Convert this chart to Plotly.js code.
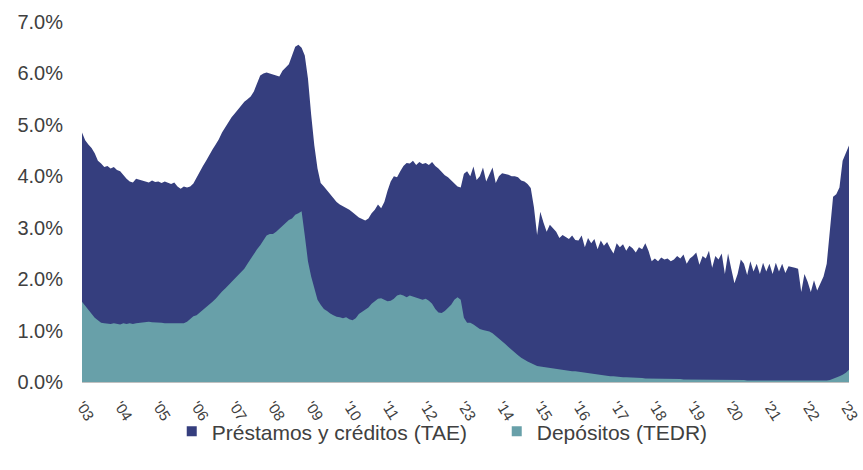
<!DOCTYPE html>
<html>
<head>
<meta charset="utf-8">
<script src="https://cdn.plot.ly/plotly-3.0.1.min.js"></script>
<style>html,body{margin:0;padding:0;background:#fff;}#chart{width:863px;height:470px;}</style>
</head>
<body>
<div id="chart"></div>
<script>
// Monthly series, January 2003 – February 2023 (percent)
const startYear = 2003;
const loansTAE = [
  4.85, 4.70, 4.62, 4.55, 4.45, 4.30, 4.25, 4.18, 4.20, 4.15, 4.18, 4.12,
  4.10, 4.02, 3.95, 3.90, 3.88, 3.95, 3.93, 3.92, 3.90, 3.88, 3.92, 3.89,
  3.90, 3.87, 3.90, 3.88, 3.85, 3.88, 3.80, 3.76, 3.80, 3.78, 3.80, 3.86,
  3.98, 4.10, 4.20, 4.30, 4.42, 4.52, 4.62, 4.72, 4.85, 4.95, 5.05, 5.15,
  5.22, 5.30, 5.38, 5.45, 5.50, 5.55, 5.65, 5.80, 5.96, 6.00, 6.02, 6.00,
  5.98, 5.96, 5.94, 6.05, 6.12, 6.18, 6.35, 6.52, 6.56, 6.50, 6.35, 5.90,
  5.20, 4.60, 4.15, 3.87, 3.80, 3.72, 3.65, 3.58, 3.50, 3.45, 3.42, 3.38,
  3.35, 3.30, 3.25, 3.20, 3.17, 3.14, 3.18, 3.28, 3.35, 3.45, 3.38, 3.50,
  3.72, 3.90, 4.00, 3.98, 4.10, 4.20, 4.26, 4.25, 4.30, 4.22, 4.28, 4.24,
  4.26, 4.22, 4.28, 4.20, 4.15, 4.08, 4.02, 3.98, 3.92, 3.88, 3.80, 3.78,
  4.05, 4.10, 4.00, 4.19, 3.93, 4.00, 4.17, 3.90, 4.05, 4.17, 3.87, 4.00,
  4.06, 4.05, 4.03, 4.00, 4.00, 3.98, 3.92, 3.90, 3.85, 3.77, 3.40, 2.86,
  3.31, 3.10, 2.92, 3.06, 3.00, 2.92, 2.80, 2.86, 2.82, 2.78, 2.85, 2.76,
  2.75, 2.85, 2.62, 2.80, 2.70, 2.78, 2.58, 2.75, 2.65, 2.72, 2.60, 2.50,
  2.70, 2.62, 2.68, 2.55, 2.65, 2.60, 2.52, 2.62, 2.58, 2.70, 2.55, 2.35,
  2.40, 2.35, 2.42, 2.38, 2.40, 2.35, 2.38, 2.45, 2.40, 2.48, 2.30, 2.40,
  2.45, 2.52, 2.28, 2.45, 2.40, 2.55, 2.22, 2.45, 2.38, 2.50, 2.10, 2.50,
  2.20, 1.92, 2.10, 2.38, 2.30, 2.08, 2.35, 2.15, 2.30, 2.10, 2.32, 2.15,
  2.30, 2.10, 2.32, 2.15, 2.30, 2.12, 2.25, 2.24, 2.22, 2.20, 1.75, 2.10,
  1.95, 1.75, 1.98, 1.78, 1.92, 2.05, 2.30, 2.90, 3.60, 3.65, 3.78, 4.30,
  4.45, 4.60
];
const depositsTEDR = [
  1.56, 1.48, 1.40, 1.32, 1.25, 1.20, 1.15, 1.14, 1.13, 1.13, 1.14, 1.13,
  1.12, 1.14, 1.13, 1.14, 1.13, 1.14, 1.15, 1.16, 1.17, 1.17, 1.16, 1.16,
  1.15, 1.15, 1.14, 1.14, 1.13, 1.14, 1.13, 1.13, 1.14, 1.17, 1.22, 1.28,
  1.30, 1.35, 1.40, 1.45, 1.50, 1.56, 1.62, 1.70, 1.76, 1.82, 1.88, 1.95,
  2.00, 2.07, 2.12, 2.20, 2.30, 2.40, 2.50, 2.58, 2.66, 2.75, 2.85, 2.88,
  2.88, 2.92, 2.98, 3.02, 3.08, 3.15, 3.18, 3.25, 3.28, 3.32, 2.85, 2.35,
  2.05, 1.80, 1.60, 1.50, 1.42, 1.38, 1.33, 1.30, 1.27, 1.26, 1.24, 1.26,
  1.22, 1.20, 1.24, 1.32, 1.36, 1.40, 1.45, 1.52, 1.58, 1.62, 1.63, 1.60,
  1.57, 1.58, 1.62, 1.68, 1.70, 1.68, 1.65, 1.68, 1.66, 1.63, 1.62, 1.60,
  1.62, 1.58, 1.52, 1.42, 1.35, 1.34, 1.38, 1.45, 1.50, 1.60, 1.65, 1.60,
  1.25, 1.15, 1.15, 1.12, 1.08, 1.03, 1.01, 1.00, 0.98, 0.95, 0.90, 0.85,
  0.80, 0.74, 0.68, 0.62, 0.57, 0.52, 0.47, 0.43, 0.40, 0.37, 0.34, 0.31,
  0.30, 0.29, 0.28, 0.27, 0.26, 0.25, 0.24, 0.24, 0.23, 0.22, 0.21, 0.21,
  0.20, 0.19, 0.18, 0.17, 0.16, 0.15, 0.14, 0.13, 0.12, 0.12, 0.11, 0.11,
  0.10, 0.10, 0.09, 0.09, 0.09, 0.08, 0.08, 0.08, 0.08, 0.07, 0.07, 0.07,
  0.07, 0.07, 0.07, 0.06, 0.06, 0.06, 0.06, 0.06, 0.06, 0.05, 0.05, 0.05,
  0.05, 0.05, 0.05, 0.05, 0.05, 0.05, 0.04, 0.05, 0.04, 0.04, 0.04, 0.04,
  0.04, 0.04, 0.04, 0.04, 0.04, 0.03, 0.03, 0.03, 0.03, 0.03, 0.03, 0.03,
  0.03, 0.03, 0.03, 0.03, 0.02, 0.02, 0.02, 0.02, 0.02, 0.02, 0.02, 0.02,
  0.02, 0.02, 0.02, 0.02, 0.02, 0.02, 0.03, 0.04, 0.06, 0.08, 0.11, 0.14,
  0.18, 0.24
];
const tickYears = [2003,2004,2005,2006,2007,2008,2009,2010,2011,2012,2013,2014,2015,2016,2017,2018,2019,2020,2021,2022,2023];
const tickLabels = ["'03","'04","'05","'06","'07","'08","'09","'10","'11","'12","'23","'14","'15","'16","'17","'18","'19","'20","'21","'22","'23"];
const seriesNames = ["Préstamos y créditos (TAE)", "Depósitos (TEDR)"];
const seriesColors = ["#353e7e", "#68a0a9"];

const months = loansTAE.map((_, i) => startYear + i / 12);

const traces = [
  {x: months, y: loansTAE, type: 'scatter', mode: 'lines', fill: 'tozeroy',
   line: {width: 0, color: seriesColors[0]}, fillcolor: seriesColors[0], showlegend: false, hoverinfo: 'skip'},
  {x: months, y: depositsTEDR, type: 'scatter', mode: 'lines', fill: 'tozeroy',
   line: {width: 0, color: seriesColors[1]}, fillcolor: seriesColors[1], showlegend: false, hoverinfo: 'skip'},
  {x: [null], y: [null], type: 'scatter', mode: 'markers', name: seriesNames[0],
   marker: {symbol: 'square', size: 10, color: seriesColors[0]}},
  {x: [null], y: [null], type: 'scatter', mode: 'markers', name: seriesNames[1],
   marker: {symbol: 'square', size: 10, color: seriesColors[1]}}
];

const layout = {
  width: 863, height: 470,
  margin: {l: 82, r: 14, t: 22, b: 88},
  paper_bgcolor: '#ffffff', plot_bgcolor: '#ffffff',
  font: {family: '"Liberation Sans", Arial, sans-serif', color: '#404040'},
  showlegend: true,
  legend: {orientation: 'h', x: 0.117, xanchor: 'left', y: -0.138, yanchor: 'middle',
           bgcolor: 'rgba(0,0,0,0)',
           font: {size: 21, color: '#404040'}, itemwidth: 30, traceorder: 'normal',
           entrywidth: 280},
  xaxis: {
    range: [startYear, months[months.length - 1]],
    tickmode: 'array', tickvals: tickYears, ticktext: tickLabels,
    tickangle: 58, tickfont: {size: 15, color: '#404040'},
    showgrid: false, zeroline: false, showline: true, linecolor: '#c0c0c0', linewidth: 1,
    ticks: '', ticklabelstandoff: 8
  },
  yaxis: {
    range: [0, 7], dtick: 1, tickformat: '.1f', ticksuffix: '%',
    tickfont: {size: 20, color: '#404040'},
    showgrid: false, zeroline: false, showline: false, ticks: '', ticklabelstandoff: 18
  }
};

Plotly.newPlot('chart', traces, layout, {displayModeBar: false, staticPlot: true});
</script>
</body>
</html>
